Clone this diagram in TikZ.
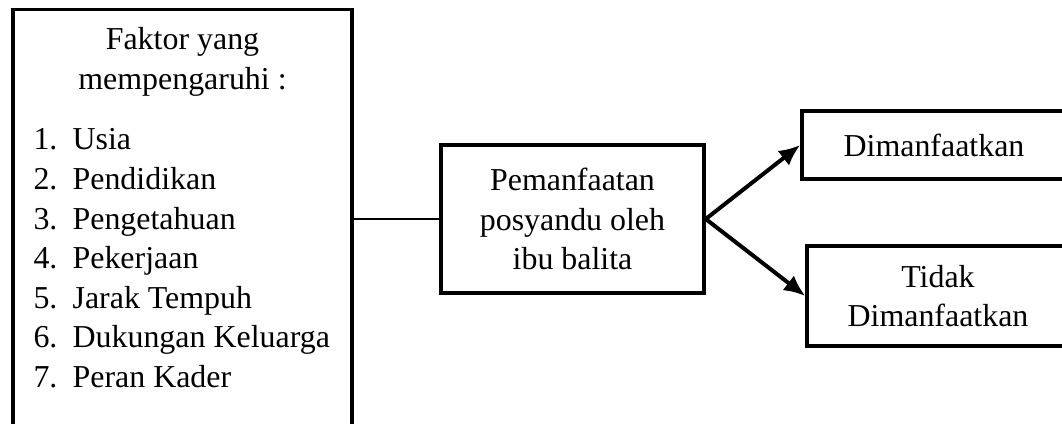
\documentclass[tikz,border=0pt]{standalone}
\usepackage{fontspec}
\setmainfont{Liberation Serif}
\usetikzlibrary{arrows.meta}
\newcommand{\nomor}[1]{\makebox[14.7pt][l]{#1}}
\tikzset{
  kotak/.style={draw, line width=1.3pt, rectangle, inner sep=0pt, align=center,
    font=\fontsize{12}{14.7}\selectfont},
  teks/.style={inner sep=0pt, font=\fontsize{12}{14.7}\selectfont},
  garis/.style={line width=1.1pt},
  panah/.style={-{Latex[length=8pt,width=7pt]}, line width=1.5pt}
}
\begin{document}
\begin{tikzpicture}[x=0.376pt, y=-0.376pt]
      \useasboundingbox (0,0) rectangle (1062,424);
      % kotak faktor
      \node[kotak, minimum width=127.5pt, minimum height=156.5pt] (faktor) at (182.5,217.5) {};
      \node[teks, anchor=base] (judul1) at (182.5,50) {Faktor yang};
      \node[teks, anchor=base] (judul2) at (182.5,90) {mempengaruhi :};
      \node[teks, anchor=base west] (usia) at (33,150) {\nomor{1.}Usia};
      \node[teks, anchor=base west] (pendidikan) at (33,189.6) {\nomor{2.}Pendidikan};
      \node[teks, anchor=base west] (pengetahuan) at (33,229.2) {\nomor{3.}Pengetahuan};
      \node[teks, anchor=base west] (pekerjaan) at (33,268.8) {\nomor{4.}Pekerjaan};
      \node[teks, anchor=base west] (jarak) at (33,308.4) {\nomor{5.}Jarak Tempuh};
      \node[teks, anchor=base west] (dukungan) at (33,348) {\nomor{6.}Dukungan Keluarga};
      \node[teks, anchor=base west] (kader) at (33,387.6) {\nomor{7.}Peran Kader};
      % kotak tengah dan hasil
      \node[kotak, minimum width=98.9pt, minimum height=55.6pt] (pemanfaatan) at (572.5,219)
        {Pemanfaatan\\posyandu oleh\\ibu balita};
      \node[kotak, minimum width=99.3pt, minimum height=25.6pt] (dimanfaatkan) at (934,145)
        {Dimanfaatkan};
      \node[kotak, minimum width=98.5pt, minimum height=37.6pt] (tidak) at (938,296)
        {Tidak\\Dimanfaatkan};
      \draw[garis] (faktor.east |- pemanfaatan.west) -- (pemanfaatan.west);
      \draw[panah] (pemanfaatan.east) -- (dimanfaatkan.west);
      \draw[panah] (pemanfaatan.east) -- (tidak.west);
    \end{tikzpicture}
\end{document}
